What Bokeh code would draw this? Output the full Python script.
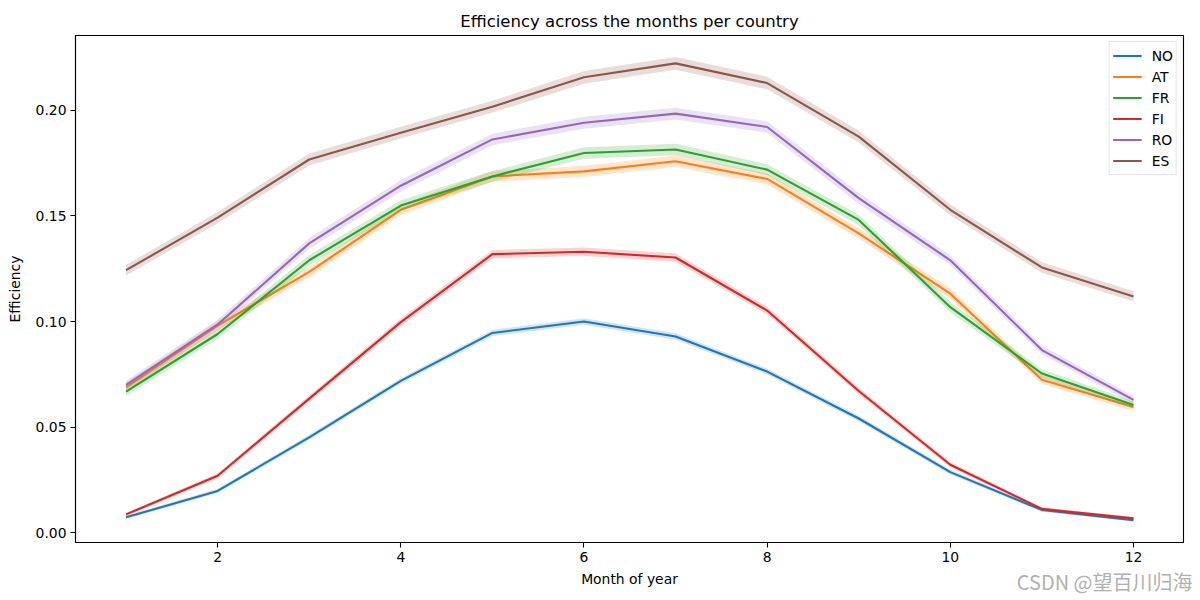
from bokeh.plotting import figure
from bokeh.models import FixedTicker, NumeralTickFormatter, Legend, LegendItem, Range1d, Title
from bokeh.embed import file_html
from bokeh.resources import INLINE

months = list(range(1, 13))
countries = ["NO", "AT", "FR", "FI", "RO", "ES"]
colors = ["#1f77b4", "#ff7f0e", "#2ca02c", "#d62728", "#9467bd", "#8c564b"]

eff_NO = [0.0073, 0.0198, 0.0452, 0.0719, 0.0946, 0.1000, 0.0929, 0.0763, 0.0541, 0.0287, 0.0108, 0.0060]
eff_AT = [0.0690, 0.0981, 0.1235, 0.1529, 0.1687, 0.1711, 0.1759, 0.1675, 0.1417, 0.1132, 0.0724, 0.0595]
eff_FR = [0.0668, 0.0941, 0.1290, 0.1549, 0.1687, 0.1798, 0.1814, 0.1719, 0.1481, 0.1068, 0.0754, 0.0605]
eff_FI = [0.0087, 0.0270, 0.0635, 0.0997, 0.1319, 0.1330, 0.1303, 0.1052, 0.0671, 0.0322, 0.0113, 0.0068]
eff_RO = [0.0700, 0.0986, 0.1370, 0.1643, 0.1862, 0.1941, 0.1984, 0.1921, 0.1584, 0.1290, 0.0865, 0.0629]
eff_ES = [0.1243, 0.1492, 0.1767, 0.1894, 0.2017, 0.2156, 0.2222, 0.2129, 0.1875, 0.1529, 0.1256, 0.1119]

ci_NO = [0.0008, 0.0010, 0.0012, 0.0013, 0.0015, 0.0015, 0.0015, 0.0014, 0.0013, 0.0011, 0.0008, 0.0007]
ci_AT = [0.0020, 0.0022, 0.0025, 0.0025, 0.0025, 0.0027, 0.0027, 0.0026, 0.0025, 0.0024, 0.0020, 0.0018]
ci_FR = [0.0020, 0.0022, 0.0025, 0.0025, 0.0025, 0.0027, 0.0027, 0.0026, 0.0025, 0.0024, 0.0020, 0.0018]
ci_FI = [0.0008, 0.0012, 0.0015, 0.0018, 0.0020, 0.0020, 0.0020, 0.0018, 0.0015, 0.0012, 0.0008, 0.0007]
ci_RO = [0.0020, 0.0022, 0.0025, 0.0027, 0.0027, 0.0028, 0.0028, 0.0027, 0.0026, 0.0024, 0.0020, 0.0018]
ci_ES = [0.0025, 0.0027, 0.0028, 0.0028, 0.0028, 0.0030, 0.0030, 0.0030, 0.0028, 0.0026, 0.0025, 0.0024]

series = [eff_NO, eff_AT, eff_FR, eff_FI, eff_RO, eff_ES]
cis = [ci_NO, ci_AT, ci_FR, ci_FI, ci_RO, ci_ES]

x_ticks = [2, 4, 6, 8, 10, 12]
y_ticks = [0.0, 0.05, 0.10, 0.15, 0.20]
watermark = "CSDN @望百川归海"

FONT = "DejaVu Sans"

p = figure(width=1195, height=597, output_backend="svg", toolbar_location=None,
           x_range=Range1d(0.448, 12.546), y_range=Range1d(-0.0046, 0.2354),
           min_border_left=75, min_border_right=12, min_border_bottom=55, min_border_top=35)

p.title.text = "Efficiency across the months per country"
p.title.align = "center"
p.title.text_font = FONT
p.title.text_font_size = "16.5px"
p.title.text_font_style = "normal"
p.title.text_color = "black"

p.xgrid.visible = False
p.ygrid.visible = False
p.outline_line_color = "black"
p.outline_line_width = 1.1
p.outline_line_alpha = 1.0
p.background_fill_color = "white"
p.border_fill_color = "white"

items = []
for name, col, ys, ci in zip(countries, colors, series, cis):
    lo = [y - c for y, c in zip(ys, ci)]
    hi = [y + c for y, c in zip(ys, ci)]
    p.varea(x=months, y1=lo, y2=hi, fill_color=col, fill_alpha=0.2)
    ln = p.line(x=months, y=ys, line_color=col, line_width=2.1)
    items.append(LegendItem(label=name, renderers=[ln]))

for ax in (p.xaxis[0], p.yaxis[0]):
    ax.major_label_text_font = FONT
    ax.major_label_text_font_size = "13.9px"
    ax.major_label_text_color = "black"
    ax.axis_label_text_font = FONT
    ax.axis_label_text_font_size = "13.9px"
    ax.axis_label_text_font_style = "normal"
    ax.axis_label_text_color = "black"
    ax.axis_line_color = "black"
    ax.axis_line_width = 1.1
    ax.major_tick_line_color = "black"
    ax.major_tick_line_width = 1.1
    ax.major_tick_out = 5
    ax.major_tick_in = 0
    ax.minor_tick_line_color = None
    ax.major_label_standoff = 4

p.xaxis.ticker = FixedTicker(ticks=x_ticks)
p.yaxis.ticker = FixedTicker(ticks=y_ticks)
p.yaxis.formatter = NumeralTickFormatter(format="0.00")
p.xaxis.axis_label = "Month of year"
p.yaxis.axis_label = "Efficiency"
p.xaxis.axis_label_standoff = 6
p.yaxis.axis_label_standoff = 10

legend = Legend(items=items, location="top_right")
legend.label_text_font = FONT
legend.label_text_font_size = "13.9px"
legend.label_text_color = "black"
legend.border_line_color = "#cccccc"
legend.border_line_width = 1
legend.background_fill_color = "white"
legend.background_fill_alpha = 0.8
legend.margin = 6
legend.padding = 3
legend.spacing = 0
legend.glyph_width = 29
legend.glyph_height = 21
legend.label_height = 21
legend.label_standoff = 10
p.add_layout(legend)

wm = Title(text=watermark, align="right", vertical_align="top", text_font="Noto Sans CJK SC",
           text_font_size="20px", text_color="#b0b0b0", text_font_style="normal",
           standoff=-46, offset=-9)
p.add_layout(wm, "below")

open("out.html", "w").write(file_html(p, INLINE))
